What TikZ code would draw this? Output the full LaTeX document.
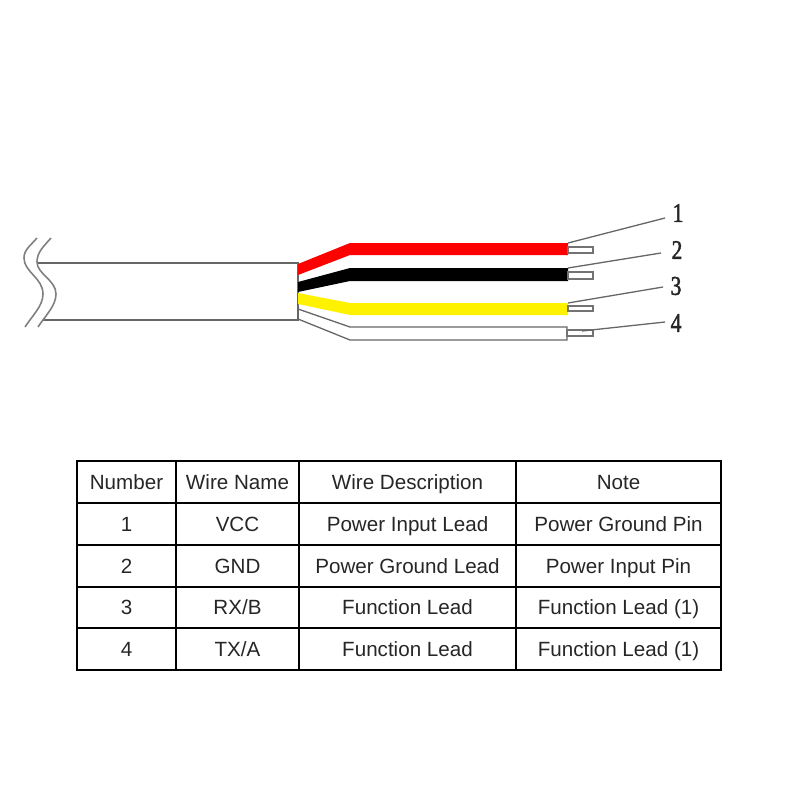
\documentclass[tikz,border=0pt]{standalone}
\usepackage{fontspec}
\setmainfont{Liberation Sans}
\newfontfamily\digitfont{Liberation Serif}[FakeBold=2]
\tikzset{
  outline/.style={draw=black!60,line width=1.3pt},
  wave/.style={draw=black!50,line width=1.6pt},
  wirefill/.style={line width=0pt},
  pinbox/.style={draw=black!55,line width=1.3pt,fill=white},
  leader/.style={draw=black!60,line width=1.3pt},
  digit/.style={font=\digitfont\fontsize{27}{27}\selectfont,inner sep=0pt,text=black!85,xscale=0.8},
  cell/.style={draw=black,line width=1.4pt,inner sep=0pt,anchor=center,text height=19pt,text depth=4.5pt,font=\fontsize{20.6}{22}\selectfont,text=black!85},
}
\begin{document}
\begin{tikzpicture}[x=1pt,y=-1pt]
\useasboundingbox (0,0) rectangle (800,800);
% cable sheath
\draw[outline] (37,263) -- (298,263) -- (298,320) -- (43,320);
% break curves
\draw[wave] (37,238) .. controls (30,246) and (24,250) .. (24,258) .. controls (24,272) and (43,278) .. (43,294) .. controls (43,306) and (32,316) .. (25,327);
\draw[wave] (51,238) .. controls (44,246) and (37,252) .. (37,262) .. controls (37,274) and (56,280) .. (56,294) .. controls (56,306) and (45,316) .. (38,327);
% wires
\fill[red,wirefill] (298,264) -- (350,243) -- (568,243) -- (568,255) -- (350,255) -- (298,275) -- cycle;
\fill[black,wirefill] (298,282) -- (350,268) -- (568,268) -- (568,281) -- (350,281) -- (298,292) -- cycle;
\fill[yellow,wirefill] (298,293) -- (350,303) -- (568,303) -- (568,315) -- (350,315) -- (298,304) -- cycle;
\draw[outline] (298,309) -- (350,327) -- (567,327) -- (567,340) -- (350,340) -- (298,319);
% pins
\draw[pinbox] (568,247) rectangle (593,253);
\draw[pinbox] (568,272) rectangle (593,279);
\draw[pinbox] (568,306) rectangle (593,311);
\draw[pinbox] (567,330) rectangle (593,336);
% labels and leaders
\node[digit] (n1) at (678,213) {1};
\node[digit] (n2) at (677,250) {2};
\node[digit] (n3) at (676,286) {3};
\node[digit] (n4) at (676,323) {4};
\coordinate (s1) at (568,243);
\coordinate (s2) at (568,268);
\coordinate (s3) at (568,303);
\coordinate (s4) at (582,331);
\coordinate (e1) at (665,218);
\coordinate (e2) at (661,253);
\coordinate (e3) at (663,287);
\coordinate (e4) at (665,322);
\draw[leader] (s1) -- (e1);
\draw[leader] (s2) -- (e2);
\draw[leader] (s3) -- (e3);
\draw[leader] (s4) -- (e4);
% table
\foreach \r/\y/\a/\b/\c/\d in {
  0/482/Number/Wire Name/Wire Description/Note,
  1/524/1/VCC/Power Input Lead/Power Ground Pin,
  2/566/2/GND/Power Ground Lead/Power Input Pin,
  3/607.5/3/RX\slash B/Function Lead/Function Lead (1),
  4/649/4/TX\slash A/Function Lead/Function Lead (1)}{
  \node[cell,minimum width=99pt,minimum height=42pt] (c\r a) at (126.5,\y) {\a};
  \node[cell,minimum width=123pt,minimum height=42pt] (c\r b) at (237.5,\y) {\b};
  \node[cell,minimum width=217pt,minimum height=42pt] (c\r c) at (407.5,\y) {\c};
  \node[cell,minimum width=205pt,minimum height=42pt] (c\r d) at (618.5,\y) {\d};
}
\end{tikzpicture}
\end{document}
